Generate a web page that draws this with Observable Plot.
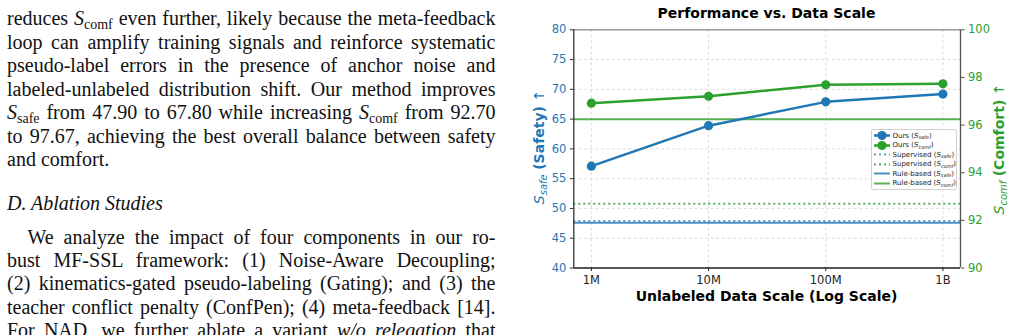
<!DOCTYPE html>
<html><head><meta charset="utf-8">
<script src="https://cdn.jsdelivr.net/npm/d3@7"></script>
<script src="https://cdn.jsdelivr.net/npm/@observablehq/plot@0.6"></script>
<style>
html,body{margin:0;padding:0;background:#fff;}
body{width:1013px;height:335px;overflow:hidden;position:relative;}
.ln{position:absolute;left:7px;font-family:"Liberation Serif","Times New Roman",serif;font-size:20px;line-height:20px;white-space:nowrap;color:#111;}
.ln .sb{font-size:14px;position:relative;top:4px;}
.ch{position:absolute;font-family:"DejaVu Sans",sans-serif;white-space:nowrap;line-height:14px;}
.rot{transform:translate(-50%,-50%) rotate(-90deg);}
.ch .sb{font-size:10px;position:relative;top:3px;font-style:italic;}
#legend{position:absolute;left:871px;top:129px;width:86px;height:61px;box-sizing:border-box;border:1px solid #d0d0d0;border-radius:2px;background:rgba(255,255,255,.85);font-family:"DejaVu Sans",sans-serif;font-size:7px;color:#222;}
#legend .row{position:absolute;left:1px;height:9px;display:flex;align-items:center;white-space:nowrap;}
#legend .sb{font-size:5px;position:relative;top:1.5px;font-style:italic;}
#chart{position:absolute;left:520px;top:0;}
#chart svg text{font-size:11.5px !important;font-family:"DejaVu Sans",sans-serif;}
</style>
</head><body>
<div class="ln j" style="top:8.3px">reduces <i>S</i><span class="sb">comf</span> even further, likely because the meta-feedback</div>
<div class="ln j" style="top:31.8px">loop can amplify training signals and reinforce systematic</div>
<div class="ln j" style="top:55.3px">pseudo-label errors in the presence of anchor noise and</div>
<div class="ln j" style="top:78.8px">labeled-unlabeled distribution shift. Our method improves</div>
<div class="ln j" style="top:102.3px"><i>S</i><span class="sb">safe</span> from 47.90 to 67.80 while increasing <i>S</i><span class="sb">comf</span> from 92.70</div>
<div class="ln j" style="top:125.8px">to 97.67, achieving the best overall balance between safety</div>
<div class="ln" style="top:149.3px">and comfort.</div>
<div class="ln" style="top:193.3px"><i>D. Ablation Studies</i></div>
<div class="ln j" style="top:226.5px;padding-left:20.5px">We analyze the impact of four components in our ro-</div>
<div class="ln j" style="top:249.9px">bust MF-SSL framework: (1) Noise-Aware Decoupling;</div>
<div class="ln j" style="top:273.3px">(2) kinematics-gated pseudo-labeling (Gating); and (3) the</div>
<div class="ln j" style="top:296.7px">teacher conflict penalty (ConfPen); (4) meta-feedback [14].</div>
<div class="ln j" style="top:320.1px">For NAD, we further ablate a variant <i>w/o relegation</i> that</div>

<div id="chart"></div>
<div class="ch" style="left:766.5px;top:6px;transform:translateX(-50%);font-size:14px;font-weight:bold;color:#000">Performance vs. Data Scale</div>
<div class="ch" style="left:766.5px;top:289px;transform:translateX(-50%);font-size:14px;font-weight:bold;color:#000">Unlabeled Data Scale (Log Scale)</div>
<div class="ch rot" style="left:540px;top:146.5px;font-size:14px;color:#1f77b4"><i>S</i><span class="sb">safe</span> <b>(Safety)</b> ↑</div>
<div class="ch rot" style="left:1000px;top:148.5px;font-size:14px;color:#2ca02c"><i>S</i><span class="sb">comf</span> <b>(Comfort)</b> ↑</div>
<div id="legend"></div>

<script>
// ---- data ----
const dataScales = [1e6, 1e7, 1e8, 1e9];
const dataScaleLabels = ["1M", "10M", "100M", "1B"];
const oursSafe = [57.1, 63.9, 67.9, 69.2];
const oursComf = [96.92, 97.21, 97.69, 97.73];
const supervisedSafe = [47.9];
const supervisedComf = [92.7];
const ruleSafe = [47.6];
const ruleComf = [96.25];
const safeTicks = [40, 45, 50, 55, 60, 65, 70, 75, 80];
const comfTicks = [90, 92, 94, 96, 98, 100];
const legendNames = ["Ours", "Ours", "Supervised", "Supervised", "Rule-based", "Rule-based"];
const legendSubs = ["safe", "comf", "safe", "comf", "safe", "comf"];

// ---- justify text lines ----
const TARGET = 488.5;
document.querySelectorAll(".ln.j").forEach(el => {
  const pad = parseFloat(el.style.paddingLeft || 0);
  const w = el.getBoundingClientRect().width - pad;
  const spaces = (el.textContent.match(/ /g) || []).length;
  if (spaces) el.style.wordSpacing = ((TARGET - pad - w) / spaces) + "px";
});

// ---- chart ----
const blue = "#1f77b4", green = "#2ca02c";
const comfToSafe = v => 40 + (v - 90) * 4;
const oursSafeData = dataScales.map((x, i) => ({x, y: oursSafe[i]}));
const oursComfData = dataScales.map((x, i) => ({x, y: comfToSafe(oursComf[i])}));
const xDomain = [10 ** 5.85, 10 ** 9.15];
const yDomain = [40, 80];

const chart = Plot.plot({
  width: 493,
  height: 335,
  marginLeft: 53.3,
  marginRight: 53,
  marginTop: 29.3,
  marginBottom: 67.5,
  style: {fontFamily: "DejaVu Sans, sans-serif", fontSize: "11.5px", background: "transparent", overflow: "visible"},
  x: {type: "log", domain: xDomain},
  y: {domain: yDomain},
  marks: [
    Plot.gridX(dataScales, {stroke: "#b8b8b8", strokeOpacity: 0.6, strokeDasharray: "3,2.5", strokeWidth: 0.8}),
    Plot.gridY(safeTicks, {stroke: "#b8b8b8", strokeOpacity: 0.6, strokeDasharray: "3,2.5", strokeWidth: 0.8}),
    Plot.ruleY(supervisedComf.map(comfToSafe), {stroke: green, strokeOpacity: 0.8, strokeWidth: 2, strokeDasharray: "2,3"}),
    Plot.ruleY(ruleSafe, {stroke: blue, strokeOpacity: 0.8, strokeWidth: 2}),
    Plot.ruleY(supervisedSafe, {stroke: blue, strokeOpacity: 0.7, strokeWidth: 2, strokeDasharray: "2,3"}),
    Plot.ruleY(ruleComf.map(comfToSafe), {stroke: green, strokeOpacity: 0.8, strokeWidth: 2}),
    Plot.line(oursSafeData, {x: "x", y: "y", stroke: blue, strokeWidth: 2.5}),
    Plot.dot(oursSafeData, {x: "x", y: "y", fill: blue, r: 4.6}),
    Plot.line(oursComfData, {x: "x", y: "y", stroke: green, strokeWidth: 2.5}),
    Plot.dot(oursComfData, {x: "x", y: "y", fill: green, r: 4.6}),
    // spines
    Plot.ruleY([yDomain[1]], {stroke: "#999", strokeWidth: 1.6}),
    Plot.ruleX([xDomain[1]], {stroke: "#555", strokeWidth: 1.3}),
    Plot.ruleX([xDomain[0]], {stroke: "#333", strokeWidth: 1.3}),
    Plot.ruleY([yDomain[0]], {stroke: "#222", strokeWidth: 1.3}),
    // axes
    Plot.axisX(dataScales, {anchor: "bottom", tickSize: 3.5, tickPadding: 4, stroke: "#222", fill: "#222", fontSize: 11.5,
      label: null, tickFormat: d => dataScaleLabels[dataScales.indexOf(d)]}),
    Plot.axisY(safeTicks, {anchor: "left", tickSize: 3.5, tickPadding: 4, stroke: "#333", fill: blue, fontSize: 11.5,
      label: null}),
    Plot.axisY(comfTicks.map(comfToSafe), {anchor: "right", tickSize: 3.5, tickPadding: 4, stroke: "#555", fill: green,
      fontSize: 11.5, label: null, tickFormat: d => String(90 + (d - 40) / 4)})
  ]
});
document.getElementById("chart").appendChild(chart);

// ---- legend ----
const legend = document.getElementById("legend");
const legendStyles = [
  {color: blue, dash: null, marker: true, op: 1},
  {color: green, dash: null, marker: true, op: 1},
  {color: blue, dash: "2,3", marker: false, op: 0.7},
  {color: green, dash: "2,3", marker: false, op: 0.8},
  {color: blue, dash: null, marker: false, op: 0.8},
  {color: green, dash: null, marker: false, op: 0.8}
];
legendNames.forEach((name, i) => {
  const st = legendStyles[i];
  const row = document.createElement("div");
  row.className = "row";
  row.style.top = (1 + i * 9.5) + "px";
  const ns = "http://www.w3.org/2000/svg";
  const svg = document.createElementNS(ns, "svg");
  svg.setAttribute("width", 18); svg.setAttribute("height", 9);
  svg.style.marginRight = "1.5px";
  svg.style.overflow = "visible";
  const ln = document.createElementNS(ns, "line");
  ln.setAttribute("x1", 1); ln.setAttribute("x2", 17); ln.setAttribute("y1", 4.5); ln.setAttribute("y2", 4.5);
  ln.setAttribute("stroke", st.color); ln.setAttribute("stroke-width", st.marker ? 2.5 : 2);
  ln.setAttribute("stroke-opacity", st.op);
  if (st.dash) ln.setAttribute("stroke-dasharray", st.dash);
  svg.appendChild(ln);
  if (st.marker) {
    const c = document.createElementNS(ns, "circle");
    c.setAttribute("cx", 9); c.setAttribute("cy", 4.5); c.setAttribute("r", 4.6); c.setAttribute("fill", st.color);
    svg.appendChild(c);
  }
  row.appendChild(svg);
  const t = document.createElement("span");
  t.innerHTML = name + " (<i>S</i><span class=\"sb\">" + legendSubs[i] + "</span>)";
  row.appendChild(t);
  legend.appendChild(row);
});
</script>
</body></html>
